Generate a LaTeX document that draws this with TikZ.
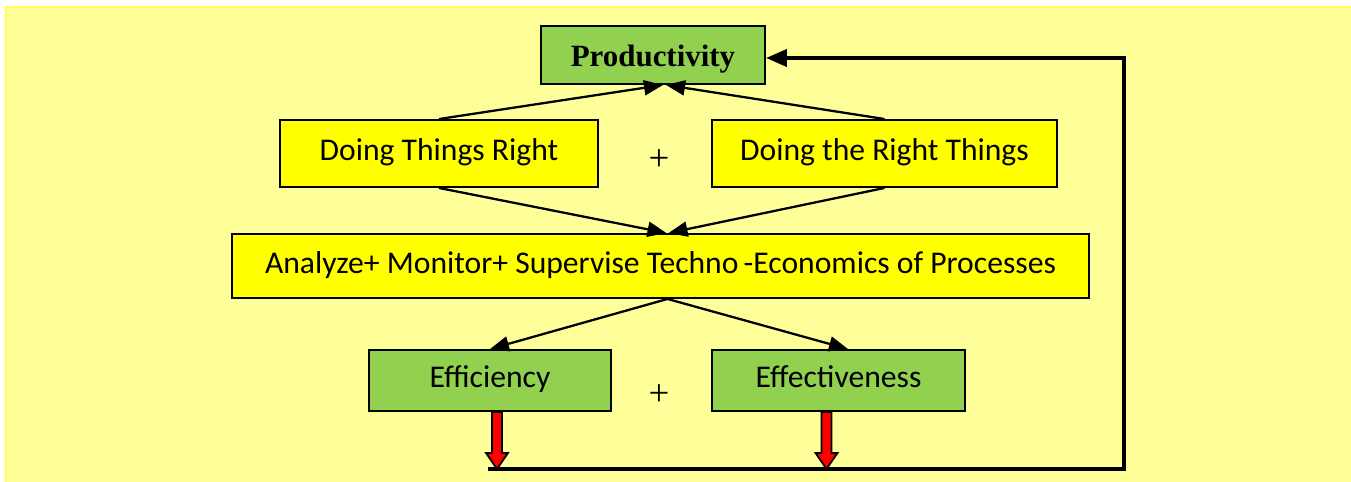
\documentclass[tikz,border=0pt]{standalone}
\usepackage{fontspec}
\setmainfont{Carlito}
\newfontfamily\timesbf{Liberation Serif}
\usetikzlibrary{arrows.meta}

\definecolor{paper}{HTML}{FFFF99}
\definecolor{paperedge}{HTML}{FFFF55}
\definecolor{boxyellow}{HTML}{FFFF00}
\definecolor{boxgreen}{HTML}{92D050}

\begin{document}
\begin{tikzpicture}[
            x=0.02cm,y=-0.02cm,
            every node/.style={align=center,font=\fontsize{18}{21}\selectfont},
            ybox/.style={draw,line width=1.1pt,fill=boxyellow,inner sep=0pt,text height=2.3ex,text depth=0.6ex},
            gbox/.style={draw,line width=1.1pt,fill=boxgreen,inner sep=0pt,text height=2.3ex,text depth=0.6ex},
            to/.style={-{Triangle[length=0.38cm,width=0.3cm]},line width=1.3pt},
            feedback/.style={-{Triangle[length=0.42cm,width=0.34cm]},line width=2.2pt},
            redarr/.style={draw,line width=1pt,fill=red,line join=miter},
            plus/.style={font=\timesbf\fontsize{21}{24}\selectfont}]

            \useasboundingbox (0,0) rectangle (1351,482);
            \draw[paperedge,fill=paper,line width=1pt] (6,7) rectangle (1352,492);

            % boxes
            \node[gbox,minimum width=4.48cm,minimum height=1.16cm,text height=3ex,text depth=0.2ex,
                  font=\timesbf\bfseries\fontsize{17.6}{20}\selectfont] (prod) at (653,55) {Productivity};
            \node[ybox,minimum width=6.36cm,minimum height=1.34cm] (right) at (439,153.5) {Doing Things Right};
            \node[ybox,minimum width=6.9cm,minimum height=1.34cm] (rightthings) at (884.5,153.5) {Doing the Right Things};
            \node[plus] (plustop) at (659,160) {+};
            \node[ybox,minimum width=17.14cm,minimum height=1.28cm] (analyze) at (660.5,266)
                 {Analyze+ Monitor+ Supervise Techno\,-Economics of Processes};
            \node[gbox,minimum width=4.84cm,minimum height=1.22cm] (effic) at (490,380.5) {Efficiency};
            \node[gbox,minimum width=5.06cm,minimum height=1.22cm] (effect) at (838.5,380.5) {Effectiveness};
            \node[plus] (plusbot) at (659,395) {+};

            % arrows between the boxes
            \draw[to] (right.north) -- ([xshift=0.2cm]prod.south);
            \draw[to] (rightthings.north) -- ([xshift=0.26cm]prod.south);
            \draw[to] (right.south) -- ([xshift=0.12cm]analyze.north);
            \draw[to] (rightthings.south) -- ([xshift=0.16cm]analyze.north);
            \draw[to] ([xshift=0.14cm]analyze.south) -- (effic.north);
            \draw[to] ([xshift=0.14cm]analyze.south) -- ([xshift=0.19cm]effect.north);

            % red block arrows into the feedback line
            \draw[redarr] (effic.south) ++(2,0) -- ++(0,41) -- ++(-6,0) -- ++(11,16)
                  -- ++(11,-16) -- ++(-6,0) -- ++(0,-41) -- cycle;
            \draw[redarr] (effect.south) ++(-17,0) -- ++(0,41) -- ++(-6,0) -- ++(11,16)
                  -- ++(11,-16) -- ++(-6,0) -- ++(0,-41) -- cycle;

            % feedback loop back to the top
            \coordinate (fbstart) at (488,469);
            \coordinate (fbcorner) at (1124,469);
            \draw[feedback] (fbstart) -- (fbcorner) |- ([yshift=-0.06cm]prod.east);
        \end{tikzpicture}
\end{document}
